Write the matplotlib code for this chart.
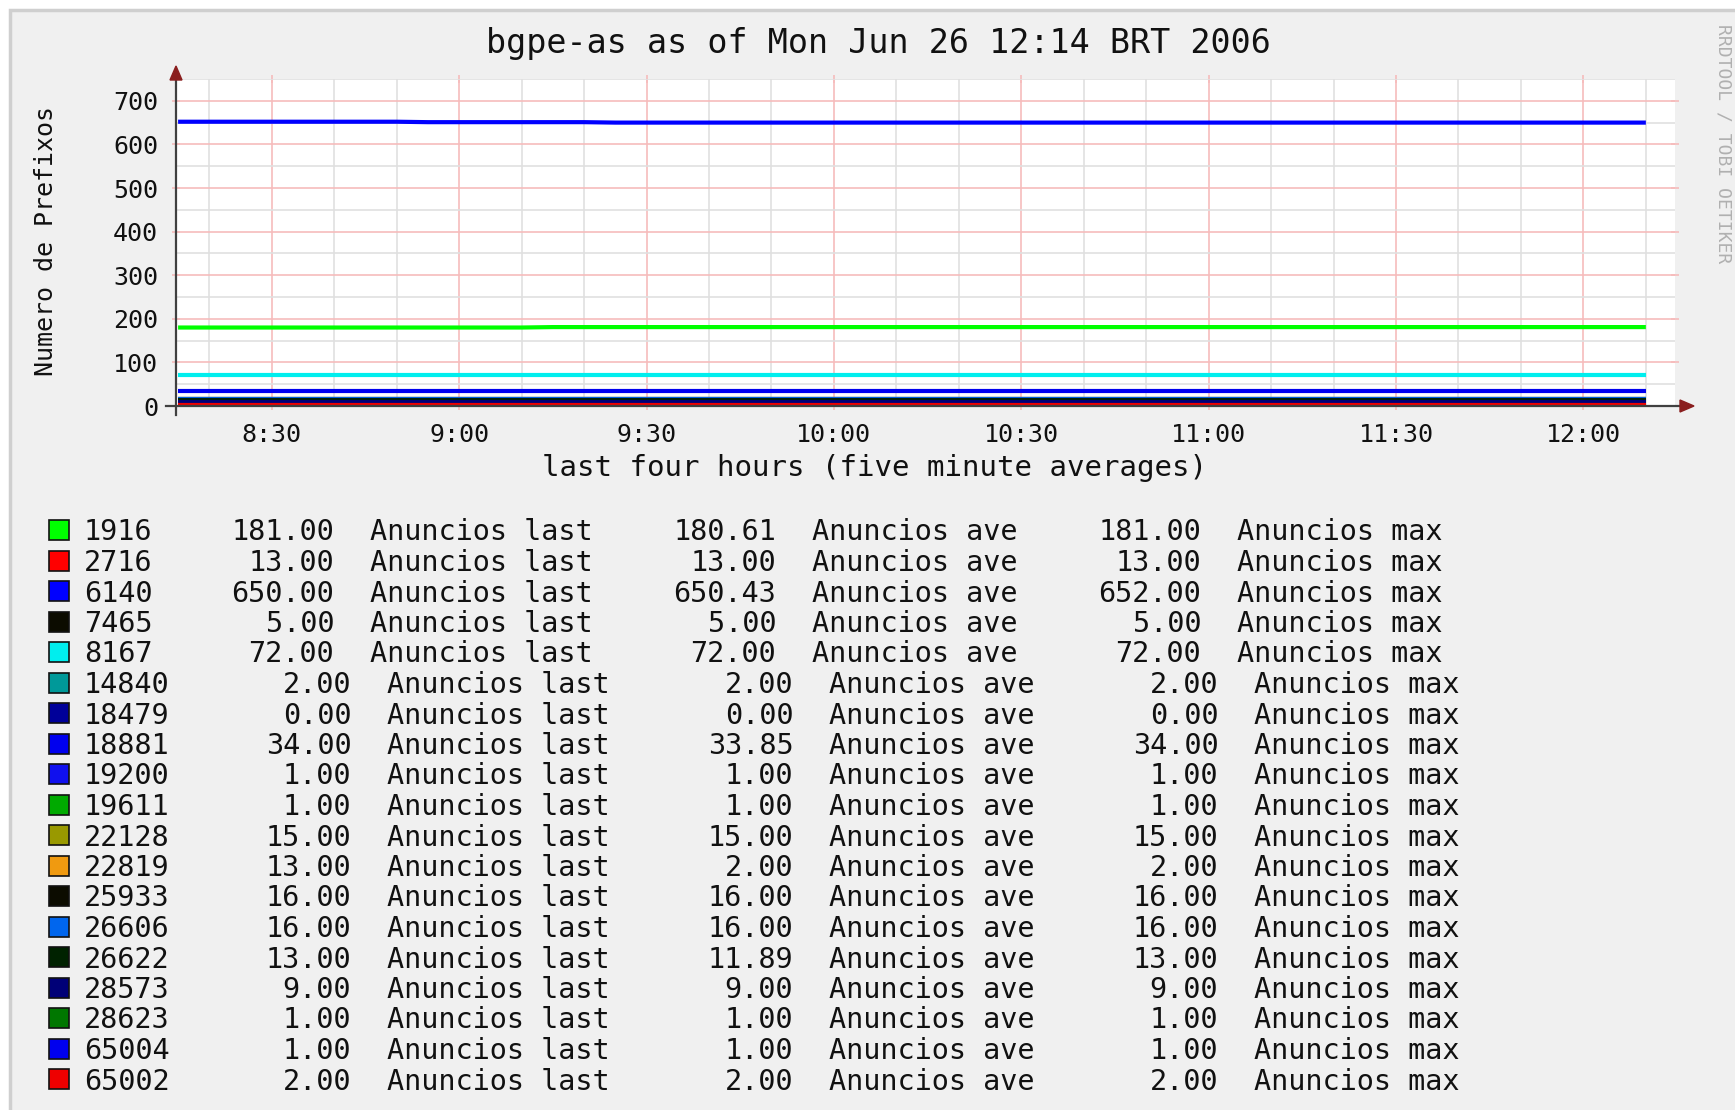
import numpy as np
import matplotlib
matplotlib.use('Agg')
import matplotlib.pyplot as plt
import matplotlib.dates as mdates
from matplotlib.patches import Rectangle, Polygon
from matplotlib.ticker import MultipleLocator
from datetime import datetime, timedelta

# legend table
names = ['1916', '2716', '6140', '7465', '8167', '14840', '18479', '18881', '19200',
         '19611', '22128', '22819', '25933', '26606', '26622', '28573', '28623',
         '65004', '65002']
last_vals = [181.00, 13.00, 650.00, 5.00, 72.00, 2.00, 0.00, 34.00, 1.00,
             1.00, 15.00, 13.00, 16.00, 16.00, 13.00, 9.00, 1.00, 1.00, 2.00]
ave_vals = [180.61, 13.00, 650.43, 5.00, 72.00, 2.00, 0.00, 33.85, 1.00,
            1.00, 15.00, 2.00, 16.00, 16.00, 11.89, 9.00, 1.00, 1.00, 2.00]
max_vals = [181.00, 13.00, 652.00, 5.00, 72.00, 2.00, 0.00, 34.00, 1.00,
            1.00, 15.00, 2.00, 16.00, 16.00, 13.00, 9.00, 1.00, 1.00, 2.00]
colors = ['#00ff00', '#ff0000', '#0000ff', '#0c0c00', '#00eeee', '#009999', '#000099',
          '#0000ee', '#1010ee', '#00aa00', '#999900', '#f09a10', '#0c0c00', '#0066ee',
          '#002200', '#000077', '#007700', '#0000ee', '#ee0000']

# five minute samples, 08:15 .. 12:10 (48 points)
t0 = datetime(2006, 6, 26, 8, 15)
times = [t0 + timedelta(minutes=5 * i) for i in range(48)]

# the two series that visibly move; the rest sit flat at one level
as1916 = [180] * 12 + [181] * 36
as6140 = [652] * 8 + [651] * 6 + [650] * 34
levels = {'1916': as1916, '6140': as6140, '22819': [2] * 48}

W, H = 1735, 1110
plt.rcParams['font.family'] = ['DejaVu Sans Mono']


def fx(px):
    return px / W


def fy(py):
    return 1 - py / H


fig = plt.figure(figsize=(W / 100, H / 100), dpi=100)
fig.patch.set_facecolor('white')
fig.add_artist(Rectangle((fx(10), fy(1200)), fx(1800), 1190 / H, transform=fig.transFigure,
                         facecolor='#f0f0f0', edgecolor='#cfcfcf', lw=2.5, zorder=0))

left, right, top, bottom = 176, 1675, 79, 406
ax = fig.add_axes([fx(left), fy(bottom), (right - left) / W, (bottom - top) / H])
ax.set_facecolor('white')

for n, c in zip(names, colors):
    vals = levels.get(n, [last_vals[names.index(n)]] * 48)
    ax.plot(times, vals, color=c, lw=3.0, solid_capstyle='butt', zorder=3)

ax.set_xlim(datetime(2006, 6, 26, 8, 14, 40), datetime(2006, 6, 26, 12, 14, 40))
ax.set_ylim(0, 750)
ax.xaxis.set_major_locator(mdates.MinuteLocator(byminute=[0, 30]))
ax.xaxis.set_minor_locator(mdates.MinuteLocator(byminute=[0, 10, 20, 30, 40, 50]))
ax.xaxis.set_major_formatter(mdates.DateFormatter('%-H:%M'))
ax.yaxis.set_major_locator(MultipleLocator(100))
ax.yaxis.set_minor_locator(MultipleLocator(50))
ax.grid(which='minor', color='#e0e0e0', lw=1.2)
ax.grid(which='major', color='#f6bcbc', lw=1.2)
ax.set_axisbelow(True)
for s in ax.spines.values():
    s.set_visible(False)
ax.tick_params(which='minor', length=0)
ax.tick_params(which='major', length=6, width=1.2, direction='inout', color='#f6bcbc',
               top=True, right=True, labelsize=18, labelcolor='#111111')
ax.tick_params(axis='x', pad=9)
ax.tick_params(axis='y', pad=10)

# axes with arrow heads, rrdtool style
axis_col = '#404040'
arrow_col = '#8a1f1f'
fig.add_artist(plt.Line2D([fx(166), fx(1685)], [fy(406), fy(406)], color=axis_col, lw=1.6,
                          transform=fig.transFigure, zorder=5))
fig.add_artist(plt.Line2D([fx(176), fx(176)], [fy(415), fy(72)], color=axis_col, lw=1.6,
                          transform=fig.transFigure, zorder=5))
fig.add_artist(Polygon([(fx(1680), fy(400)), (fx(1694), fy(406)), (fx(1680), fy(412))],
                       closed=True, transform=fig.transFigure, color=arrow_col, zorder=6))
fig.add_artist(Polygon([(fx(170), fy(80)), (fx(176), fy(66)), (fx(182), fy(80))],
                       closed=True, transform=fig.transFigure, color=arrow_col, zorder=6))

fig.text(fx(878), fy(44), 'bgpe-as as of Mon Jun 26 12:14 BRT 2006', fontsize=24,
         ha='center', va='center', color='#111111')
fig.text(fx(874), fy(468), 'last four hours (five minute averages)', fontsize=21,
         ha='center', va='center', color='#111111')
fig.text(fx(46), fy(241), 'Numero de Prefixos', fontsize=18, rotation=90,
         ha='center', va='center', color='#111111')
fig.text(fx(1723), fy(144), 'RRDTOOL / TOBI OETIKER', fontsize=13, rotation=270,
         ha='center', va='center', color='#b0b0b0')

# legend rows
row0, step, cw = 530, 30.5, 17.2
for i, n in enumerate(names):
    yc = row0 + i * step
    yb = fy(yc + 10.5)
    sh = (len(n) - 4) * cw
    fig.add_artist(Rectangle((fx(49), fy(yc + 10)), 20 / W, 20 / H, transform=fig.transFigure,
                             facecolor=colors[i], edgecolor='#111111', lw=1.2))
    kw = dict(fontsize=20.5, va='baseline', color='#111111')
    fig.text(fx(84), yb, n, ha='left', **kw)
    fig.text(fx(334 + sh), yb, f'{last_vals[i]:.2f}', ha='right', **kw)
    fig.text(fx(370 + sh), yb, 'Anuncios last', ha='left', **kw)
    fig.text(fx(776 + sh), yb, f'{ave_vals[i]:.2f}', ha='right', **kw)
    fig.text(fx(812 + sh), yb, 'Anuncios ave', ha='left', **kw)
    fig.text(fx(1201 + sh), yb, f'{max_vals[i]:.2f}', ha='right', **kw)
    fig.text(fx(1237 + sh), yb, 'Anuncios max', ha='left', **kw)

fig.savefig('out.png', dpi=100, facecolor=fig.get_facecolor())
